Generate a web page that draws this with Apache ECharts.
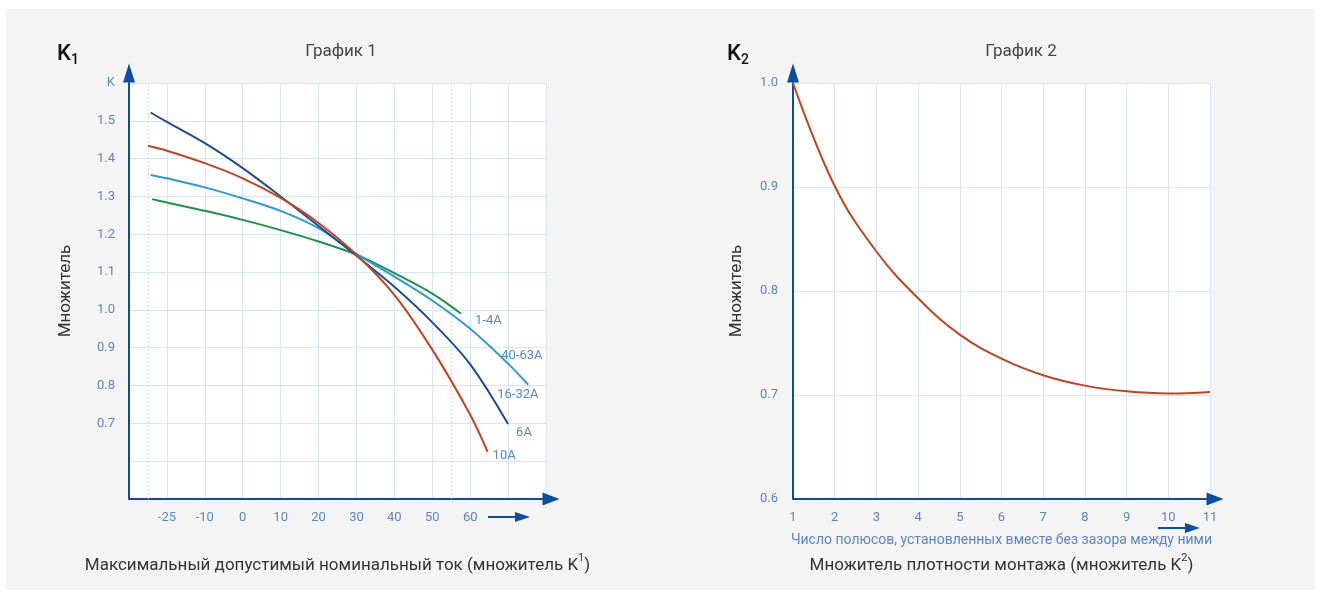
<!DOCTYPE html>
<html>
<head>
    <meta charset="utf-8">
    <title>Графики К1 и К2</title>
    <style>
        html, body { margin: 0; padding: 0; background: #fff; }
        #panel { position: absolute; left: 6px; top: 9px; width: 1309px; height: 581px; background: #f4f4f4; }
        #main { position: absolute; left: 0; top: 0; width: 1321px; height: 599px; }
    </style>
</head>
<body>
<div id="panel"></div>
<div id="main"></div>

<script src="https://cdn.jsdelivr.net/npm/echarts@6/dist/echarts.min.js"></script>
<script>
    // График 1: по оси X - номер деления (0 = -25, 1 = -10, 2 = 0 ... 8 = 60)
    var tempLabels = ['-25', '-10', '0', '10', '20', '30', '40', '50', '60'];
    var dashedX = [-0.5, 7.5];

    var k1_6A = [[-0.43, 1.522], [0, 1.497], [1, 1.441], [2, 1.375], [3, 1.300], [4, 1.222],
        [5, 1.143], [6, 1.061], [7, 0.967], [8, 0.856], [9, 0.698]];
    var k1_10A = [[-0.5, 1.434], [0, 1.421], [1, 1.388], [2, 1.348], [3, 1.296], [4, 1.230],
        [5, 1.146], [6, 1.040], [7, 0.895], [8, 0.723], [8.46, 0.625]];
    var k1_40_63A = [[-0.43, 1.357], [0, 1.348], [1, 1.324], [2, 1.295], [3, 1.262], [4, 1.216],
        [5, 1.148], [6, 1.088], [7, 1.025], [8, 0.950], [9, 0.858], [9.53, 0.802]];
    var k1_1_4A = [[-0.39, 1.293], [0, 1.284], [1, 1.262], [2, 1.238], [3, 1.211], [4, 1.181],
        [5, 1.146], [6, 1.097], [7, 1.043], [7.76, 0.990]];

    // График 2
    var poles = [1, 2, 3, 4, 5, 6, 7, 8, 9, 10, 11];
    var k2 = [1.0, 0.901, 0.838, 0.793, 0.758, 0.735, 0.719, 0.709, 0.7035, 0.7015, 0.703];

    var axisBlue = '#0c4da2';
    var gridBlue = '#d4e6f7';
    var textBlue = '#5b86c3';

    var myChart = echarts.init(document.getElementById('main'), null, {renderer: 'canvas'});

    function xAxisBase(extra) {
        var a = {
            type: 'value',
            interval: 1,
            axisLine: {
                show: true, onZero: false,
                lineStyle: {color: axisBlue, width: 2},
                symbol: ['none', 'triangle'], symbolSize: [13, 17], symbolOffset: [0, 5]
            },
            axisTick: {show: false},
            splitLine: {show: true, lineStyle: {color: gridBlue, width: 1}},
            nameLocation: 'middle',
            nameMoveOverlap: false
        };
        return Object.assign(a, extra);
    }

    function yAxisBase(extra) {
        var a = {
            type: 'value',
            interval: 0.1,
            axisLine: {
                show: true, onZero: false,
                lineStyle: {color: axisBlue, width: 2},
                symbol: ['none', 'triangle'], symbolSize: [12, 19], symbolOffset: [0, 10]
            },
            axisTick: {show: false},
            splitLine: {show: true, lineStyle: {color: gridBlue, width: 1}},
            name: 'Множитель',
            nameLocation: 'middle',
            nameRotate: 90,
            nameMoveOverlap: false,
            nameTextStyle: {color: '#333', fontSize: 17, fontFamily: 'Roboto'}
        };
        return Object.assign(a, extra);
    }

    function curve(name, data, color, endLabel) {
        return {
            name: name,
            type: 'line',
            xAxisIndex: 0,
            yAxisIndex: 0,
            data: data,
            smooth: 0.35,
            symbol: 'none',
            lineStyle: {color: color, width: 2},
            endLabel: Object.assign({
                show: true,
                color: textBlue,
                fontSize: 13,
                fontFamily: 'Roboto',
                formatter: name
            }, endLabel)
        };
    }

    var supRich = {
        m: {color: '#333', fontSize: 17, fontFamily: 'Roboto', lineHeight: 26},
        sup: {color: '#333', fontSize: 11, fontFamily: 'Roboto', lineHeight: 12, verticalAlign: 'top'},
        s: {color: textBlue, fontSize: 14, fontFamily: 'Roboto', lineHeight: 26}
    };

    var kRich = {
        k: {fontSize: 22, fontWeight: 500, color: '#111', fontFamily: 'Roboto', lineHeight: 26},
        i: {fontSize: 14, fontWeight: 500, color: '#111', fontFamily: 'Roboto', lineHeight: 15, verticalAlign: 'bottom'}
    };

    var option = {
        animation: false,
        backgroundColor: 'transparent',
        title: [
            {text: 'График 1', left: 341, top: 43, padding: 0, textAlign: 'center',
                textStyle: {fontSize: 17, fontWeight: 'normal', color: '#444', fontFamily: 'Roboto'}},
            {text: 'График 2', left: 1021, top: 43, padding: 0, textAlign: 'center',
                textStyle: {fontSize: 17, fontWeight: 'normal', color: '#444', fontFamily: 'Roboto'}},
            {text: '{k|K}{i|1}', left: 57, top: 41, padding: 0, textStyle: {rich: kRich}},
            {text: '{k|K}{i|2}', left: 727, top: 41, padding: 0, textStyle: {rich: kRich}}
        ],
        grid: [
            {left: 129, top: 83, width: 417, height: 416, show: true, backgroundColor: '#fff', borderWidth: 0,
                containLabel: false, outerBoundsMode: 'none'},
            {left: 793, top: 83, width: 417, height: 416, show: true, backgroundColor: '#fff', borderWidth: 0,
                containLabel: false, outerBoundsMode: 'none'}
        ],
        xAxis: [
            xAxisBase({
                gridIndex: 0, min: -1, max: 10,
                axisLabel: {
                    color: textBlue, fontSize: 13, fontFamily: 'Roboto', margin: 12,
                    formatter: function (v) { return tempLabels[v] || ''; }
                },
                name: '{m|Максимальный допустимый номинальный ток (множитель K}{sup|1}{m|)}',
                nameGap: 54,
                nameTextStyle: {rich: supRich}
            }),
            xAxisBase({
                gridIndex: 1, min: 1, max: 11,
                axisLabel: {color: textBlue, fontSize: 13, fontFamily: 'Roboto', margin: 12},
                name: '{s|Число полюсов, установленных вместе без зазора между ними}\n' +
                    '{m|Множитель плотности монтажа (множитель K}{sup|2}{m|)}',
                nameGap: 28,
                nameTextStyle: {rich: supRich}
            })
        ],
        yAxis: [
            yAxisBase({
                gridIndex: 0, min: 0.5, max: 1.6, nameGap: 55,
                axisLabel: {
                    color: textBlue, fontSize: 13, fontFamily: 'Roboto', margin: 14,
                    formatter: function (v) {
                        var r = Math.round(v * 10) / 10;
                        if (r >= 1.6) return 'K';
                        if (r < 0.7) return '';
                        return r.toFixed(1);
                    }
                }
            }),
            yAxisBase({
                gridIndex: 1, min: 0.6, max: 1.0, nameGap: 48,
                axisLabel: {
                    color: textBlue, fontSize: 13, fontFamily: 'Roboto', margin: 15,
                    formatter: function (v) { return (Math.round(v * 10) / 10).toFixed(1); }
                }
            })
        ],
        series: [
            {
                type: 'line', xAxisIndex: 0, yAxisIndex: 0, data: [], silent: true,
                markLine: {
                    silent: true, symbol: 'none', z: 1,
                    label: {show: false},
                    lineStyle: {color: '#c6dcf1', width: 1, type: [2, 2]},
                    data: dashedX.map(function (x) { return {xAxis: x}; })
                }
            },
            curve('1-4A', k1_1_4A, '#1b9447', {offset: [6, 7]}),
            curve('40-63A', k1_40_63A, '#2b9bd8', {
                formatter: '{a|40-63A}\n{b|16-32A}',
                offset: [-39, -9.5],
                rich: {
                    a: {color: textBlue, fontSize: 13, fontFamily: 'Roboto', lineHeight: 39, padding: [0, 0, 0, 4]},
                    b: {color: textBlue, fontSize: 13, fontFamily: 'Roboto', lineHeight: 39}
                }
            }),
            curve('6A', k1_6A, '#1f4b99', {offset: [0, 9]}),
            curve('10A', k1_10A, '#c1441d', {offset: [-3, 4]}),
            {
                name: 'K2',
                type: 'line',
                xAxisIndex: 1,
                yAxisIndex: 1,
                data: poles.map(function (p, i) { return [p, k2[i]]; }),
                smooth: 0.4,
                symbol: 'none',
                lineStyle: {color: '#c1441d', width: 2}
            }
        ],
        // стрелки-указатели под осями
        graphic: [
            {type: 'line', shape: {x1: 488, y1: 517, x2: 518, y2: 517}, style: {stroke: axisBlue, lineWidth: 2}},
            {type: 'polygon', shape: {points: [[515, 512], [530, 517], [515, 522]]}, style: {fill: axisBlue}},
            {type: 'line', shape: {x1: 1158, y1: 528, x2: 1188, y2: 528}, style: {stroke: axisBlue, lineWidth: 2}},
            {type: 'polygon', shape: {points: [[1185, 523], [1200, 528], [1185, 533]]}, style: {fill: axisBlue}}
        ]
    };
    myChart.setOption(option);
</script>
</body>
</html>
